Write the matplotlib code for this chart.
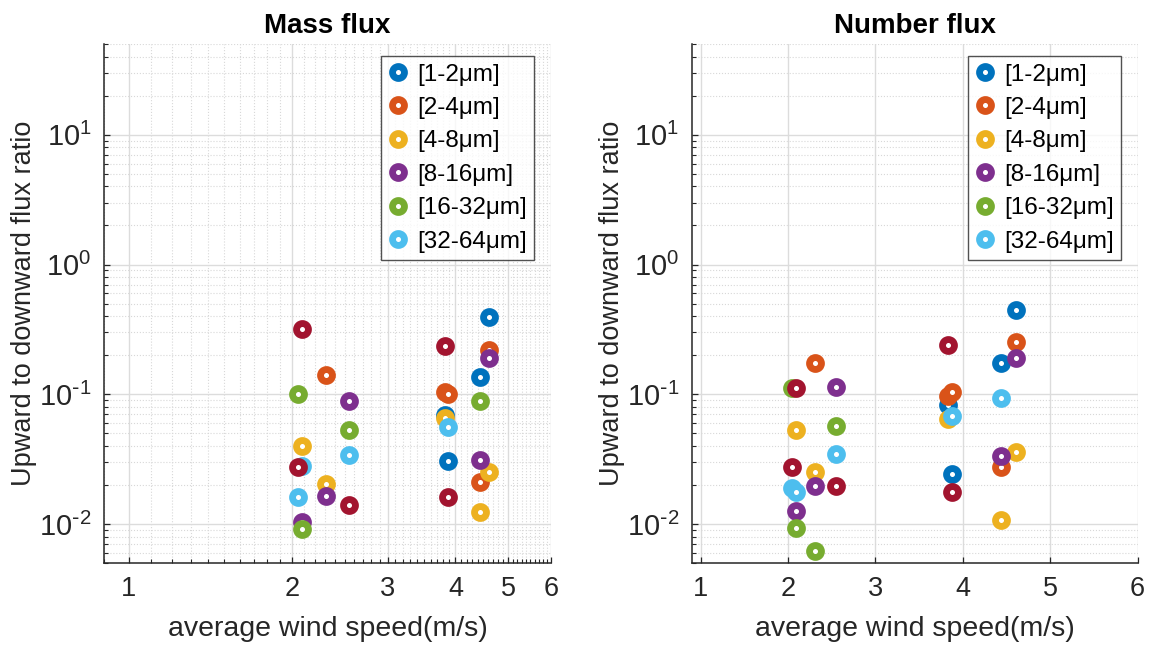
import numpy as np
import matplotlib
matplotlib.use('Agg')
import matplotlib.pyplot as plt
from matplotlib.ticker import (FixedLocator, FixedFormatter, MultipleLocator, LogLocator,
                               NullFormatter, FuncFormatter)

plt.rcParams['font.family'] = ['Liberation Sans', 'DejaVu Sans']
plt.rcParams['mathtext.default'] = 'regular'

# average wind speed for each run (m/s)
wind = [2.05, 2.09, 2.31, 2.55, 3.83, 3.88, 4.44, 4.61]
bins = ['[1-2μm]', '[2-4μm]', '[4-8μm]', '[8-16μm]', '[16-32μm]', '[32-64μm]', '[64-128μm]']
colors = ['#0072BD', '#D95319', '#EDB120', '#7E2F8E', '#77AC30', '#4DBEEE', '#A2142F']
nan = np.nan

# upward/downward ratio, mass flux (one row per size bin, one column per run)
mass_1_2 = [nan, nan, nan, nan, 0.0688, 0.0308, 0.136, 0.393]
mass_2_4 = [nan, nan, 0.140, nan, 0.104, 0.100, 0.0212, 0.219]
mass_4_8 = [nan, 0.0398, 0.0202, nan, 0.066, nan, 0.01245, 0.0253]
mass_8_16 = [nan, 0.0104, 0.0165, 0.0894, nan, nan, 0.0313, 0.191]
mass_16_32 = [0.100, 0.0092, nan, 0.0529, nan, nan, 0.0894, nan]
mass_32_64 = [0.0161, 0.028, nan, 0.034, nan, 0.0558, nan, nan]
mass_64_128 = [0.0273, 0.317, nan, 0.01396, 0.237, 0.0161, nan, nan]

# upward/downward ratio, number flux
num_1_2 = [nan, nan, nan, nan, 0.083, 0.0243, 0.173, 0.448]
num_2_4 = [nan, nan, 0.175, nan, 0.0965, 0.105, 0.0273, 0.252]
num_4_8 = [nan, 0.0529, 0.0253, nan, 0.0648, nan, 0.0107, 0.0361]
num_8_16 = [nan, 0.0126, 0.0196, 0.114, nan, nan, 0.0335, 0.192]
num_16_32 = [0.112, 0.00927, 0.00618, 0.0565, nan, nan, nan, nan]
num_32_64 = [0.0191, 0.0178, nan, 0.0347, nan, 0.068, 0.0943, nan]
num_64_128 = [0.0273, 0.112, nan, 0.0196, 0.240, 0.0176, nan, nan]

mass = [mass_1_2, mass_2_4, mass_4_8, mass_8_16, mass_16_32, mass_32_64, mass_64_128]
num = [num_1_2, num_2_4, num_4_8, num_8_16, num_16_32, num_32_64, num_64_128]


def pow10(v, pos):
    e = int(round(np.log10(v)))
    s = str(e).replace('-', r'\text{-}')
    return r'$10^{%s}$' % s


fig = plt.figure(figsize=(11.55, 6.48), dpi=100)
ax1 = fig.add_axes([0.090, 0.131, 0.387, 0.801])
ax2 = fig.add_axes([0.599, 0.131, 0.386, 0.801])

txt = '#262626'
for ax, data, title in [(ax1, mass, 'Mass flux'), (ax2, num, 'Number flux')]:
    handles = []
    for vals, c, lab in zip(data, colors, bins):
        h, = ax.plot(wind, vals, 'o', ls='none', color=c, mfc='white', mec=c,
                     ms=8.6, mew=4.9, label=lab, zorder=3)
        handles.append(h)
    ax.set_yscale('log')
    ax.set_ylim(0.005, 50)
    ax.yaxis.set_major_formatter(FuncFormatter(pow10))
    ax.yaxis.set_minor_locator(LogLocator(base=10, subs=np.arange(2, 10)))
    ax.yaxis.set_minor_formatter(NullFormatter())
    ax.set_title(title, fontsize=20, fontweight='bold', pad=8)
    ax.set_xlabel('average wind speed(m/s)', fontsize=20.5, color=txt, labelpad=10)
    ax.set_ylabel('Upward to downward flux ratio', fontsize=19.5, color=txt)
    ax.yaxis.set_label_coords(-0.150, 0.5)
    ax.grid(True, which='major', color='#dcdcdc', lw=1.0, zorder=0)
    ax.grid(True, which='minor', color='#d8d8d8', lw=0.8, ls=':', zorder=0)
    ax.set_axisbelow(True)
    for s in ['top', 'right']:
        ax.spines[s].set_visible(False)
    for s in ['left', 'bottom']:
        ax.spines[s].set_color(txt)
        ax.spines[s].set_linewidth(1.1)
    ax.tick_params(which='both', direction='in', colors=txt)
    ax.tick_params(axis='x', labelsize=19.5)
    ax.tick_params(axis='y', labelsize=21)
    ax.tick_params(which='major', length=4.5, width=0.9, pad=9)
    ax.tick_params(which='minor', length=3, width=0.8)
    leg = ax.legend(handles=handles[:6], loc='upper right', fontsize=17.5,
                    frameon=True, fancybox=False, borderpad=0.3, labelspacing=0.47,
                    handlelength=0.8, handletextpad=0.4, borderaxespad=0.5,
                    bbox_to_anchor=(0.99, 1.0))
    leg.get_frame().set_edgecolor(txt)
    leg.get_frame().set_linewidth(1.0)
    for t in leg.get_texts():
        t.set_color('black')

# left: log wind axis
ax1.set_xscale('log')
ax1.set_xlim(0.9, 6)
ax1.xaxis.set_major_locator(FixedLocator([1, 2, 3, 4, 5, 6]))
ax1.xaxis.set_major_formatter(FixedFormatter(['1', '2', '3', '4', '5', '6']))
ax1.xaxis.set_minor_locator(MultipleLocator(0.1))
ax1.xaxis.set_minor_formatter(NullFormatter())

# right: linear wind axis
ax2.set_xlim(0.9, 6)
ax2.xaxis.set_major_locator(FixedLocator([1, 2, 3, 4, 5, 6]))
ax2.xaxis.set_minor_locator(FixedLocator([]))
ax2.grid(False, which='minor', axis='x')

plt.savefig('out.png', dpi=100)
